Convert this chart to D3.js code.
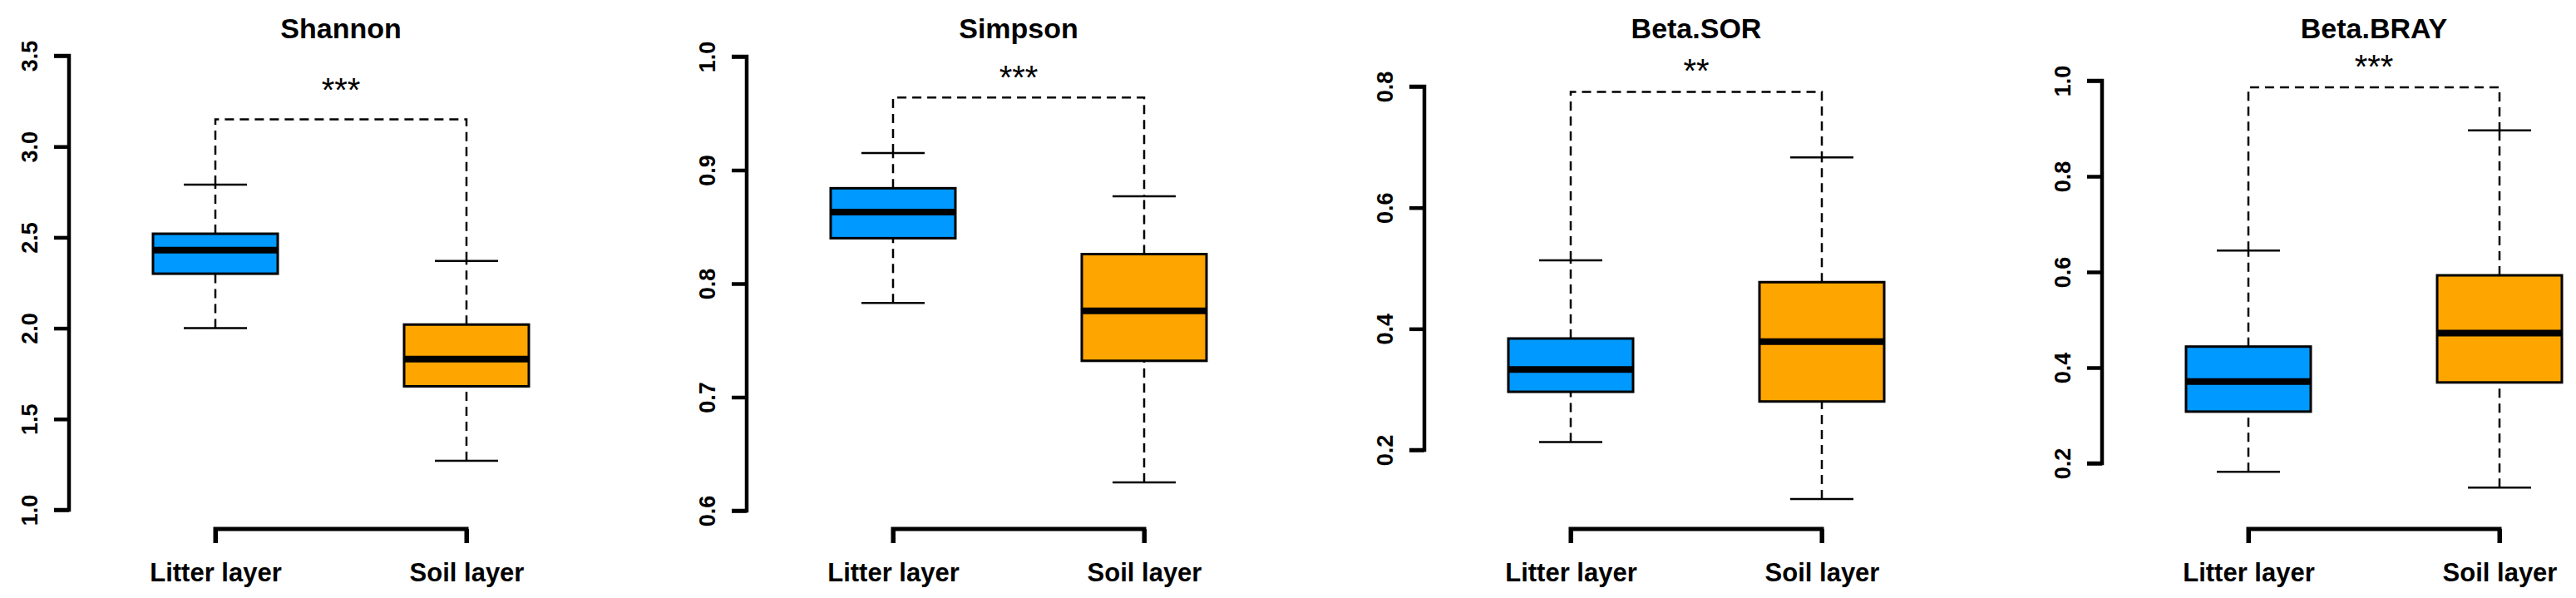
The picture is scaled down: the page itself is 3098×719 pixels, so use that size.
<!DOCTYPE html>
<html>
<head>
<meta charset="utf-8">
<script src="https://cdn.jsdelivr.net/npm/d3@7"></script>
<style>
  body { margin: 0; background: #fff; }
  text { font-family: "Liberation Sans", Arial, sans-serif; font-weight: bold; fill: #000; }
</style>
</head>
<body>
<svg id="chart" width="3098" height="719"></svg>
<script>
const panels = ["Shannon", "Simpson", "Beta.SOR", "Beta.BRAY"];
const groups = ["Litter layer", "Soil layer"];
const colors = ["#0099FF", "#FFA500"];

// [min, q1, median, q3, max] per group
const litter = [
  [2.00, 2.30, 2.43, 2.52, 2.79],
  [0.783, 0.840, 0.863, 0.884, 0.915],
  [0.213, 0.296, 0.333, 0.384, 0.513],
  [0.182, 0.308, 0.371, 0.444, 0.645]
];
const soil = [
  [1.27, 1.68, 1.83, 2.02, 2.37],
  [0.625, 0.732, 0.776, 0.826, 0.877],
  [0.119, 0.280, 0.379, 0.477, 0.683],
  [0.149, 0.369, 0.472, 0.593, 0.896]
];
const sigLabel = ["***", "***", "**", "***"];
const sigBracket = [3.15, 0.964, 0.791, 0.986];
const sigText = [3.34, 0.986, 0.834, 1.04];
const yDomains = [[1.0, 3.5], [0.6, 1.0], [0.2, 0.8], [0.2, 1.0]];
const yTicks = [
  [1.0, 1.5, 2.0, 2.5, 3.0, 3.5],
  [0.6, 0.7, 0.8, 0.9, 1.0],
  [0.2, 0.4, 0.6, 0.8],
  [0.2, 0.4, 0.6, 0.8, 1.0]
];
// pixel range of each axis (bottom, top)
const yRanges = [[613, 67], [614, 68], [541, 104], [557, 97]];

const svg = d3.select("#chart");
const boxW = 150, capW = 76;

panels.forEach((name, p) => {
  const x0 = 259 + p * 815;
  const x = d3.scalePoint().domain(groups).range([x0, x0 + 302]);
  const y = d3.scaleLinear().domain(yDomains[p]).range(yRanges[p]);
  const g = svg.append("g");
  const axisX = x0 - 176;

  // title
  g.append("text").attr("x", x0 + 151).attr("y", 46)
    .attr("text-anchor", "middle").style("font-size", "34px").text(name);

  // y axis
  const ya = g.append("g").attr("transform", `translate(${axisX},0)`)
    .call(d3.axisLeft(y).tickValues(yTicks[p]).tickSize(18).tickFormat(d3.format(".1f")));
  ya.select(".domain").attr("stroke-width", 4.5).attr("d", `M-18,${y.range()[0]}H0V${y.range()[1]}H-18`).attr("fill", "none");
  ya.selectAll(".tick line").attr("stroke-width", 4.5);
  ya.selectAll(".tick text")
    .attr("x", 0).attr("dy", 0)
    .attr("transform", "translate(-38,0) rotate(-90)")
    .attr("text-anchor", "middle")
    .style("font-size", "27px");

  // significance bracket
  const yb = y(sigBracket[p]);
  const xs = groups.map(d => x(d));
  const boxes = [litter[p], soil[p]];
  g.append("path")
    .attr("d", `M${xs[0]},${y(boxes[0][4])}V${yb}H${xs[1]}V${y(boxes[1][4])}`)
    .attr("fill", "none").attr("stroke", "#000").attr("stroke-width", 2.5)
    .attr("stroke-dasharray", "11,7");
  g.append("text").attr("x", x0 + 151).attr("y", y(sigText[p]) + 20)
    .attr("text-anchor", "middle").style("font-size", "40px").style("font-weight", "normal")
    .text(sigLabel[p]);

  // boxes
  boxes.forEach((b, i) => {
    const cx = xs[i];
    const bg = g.append("g");
    bg.append("line").attr("x1", cx).attr("x2", cx).attr("y1", y(b[0])).attr("y2", y(b[1]))
      .attr("stroke", "#000").attr("stroke-width", 2.5).attr("stroke-dasharray", "11,7");
    if (i === 0) {
      bg.append("line").attr("x1", cx).attr("x2", cx).attr("y1", y(b[3])).attr("y2", y(b[4]))
        .attr("stroke", "#000").attr("stroke-width", 2.5).attr("stroke-dasharray", "11,7");
    } else {
      bg.append("line").attr("x1", cx).attr("x2", cx).attr("y1", y(b[3])).attr("y2", y(b[4]))
        .attr("stroke", "#000").attr("stroke-width", 2.5).attr("stroke-dasharray", "11,7");
    }
    [b[0], b[4]].forEach(v => {
      bg.append("line").attr("x1", cx - capW / 2).attr("x2", cx + capW / 2)
        .attr("y1", y(v)).attr("y2", y(v)).attr("stroke", "#000").attr("stroke-width", 2.5);
    });
    bg.append("rect").attr("x", cx - boxW / 2).attr("width", boxW)
      .attr("y", y(b[3])).attr("height", y(b[1]) - y(b[3]))
      .attr("fill", colors[i]).attr("stroke", "#000").attr("stroke-width", 3);
    bg.append("line").attr("x1", cx - boxW / 2).attr("x2", cx + boxW / 2)
      .attr("y1", y(b[2])).attr("y2", y(b[2])).attr("stroke", "#000").attr("stroke-width", 8);
  });

  // x axis
  const xa = g.append("g").attr("transform", "translate(0,636)")
    .call(d3.axisBottom(x).tickSize(17).tickPadding(24));
  xa.select(".domain").attr("stroke-width", 5).attr("fill", "none")
    .attr("d", `M${xs[0]},17V0H${xs[1]}V17`);
  xa.selectAll(".tick line").attr("stroke-width", 5);
  xa.selectAll(".tick text").style("font-size", "31px");
});
</script>
</body>
</html>
